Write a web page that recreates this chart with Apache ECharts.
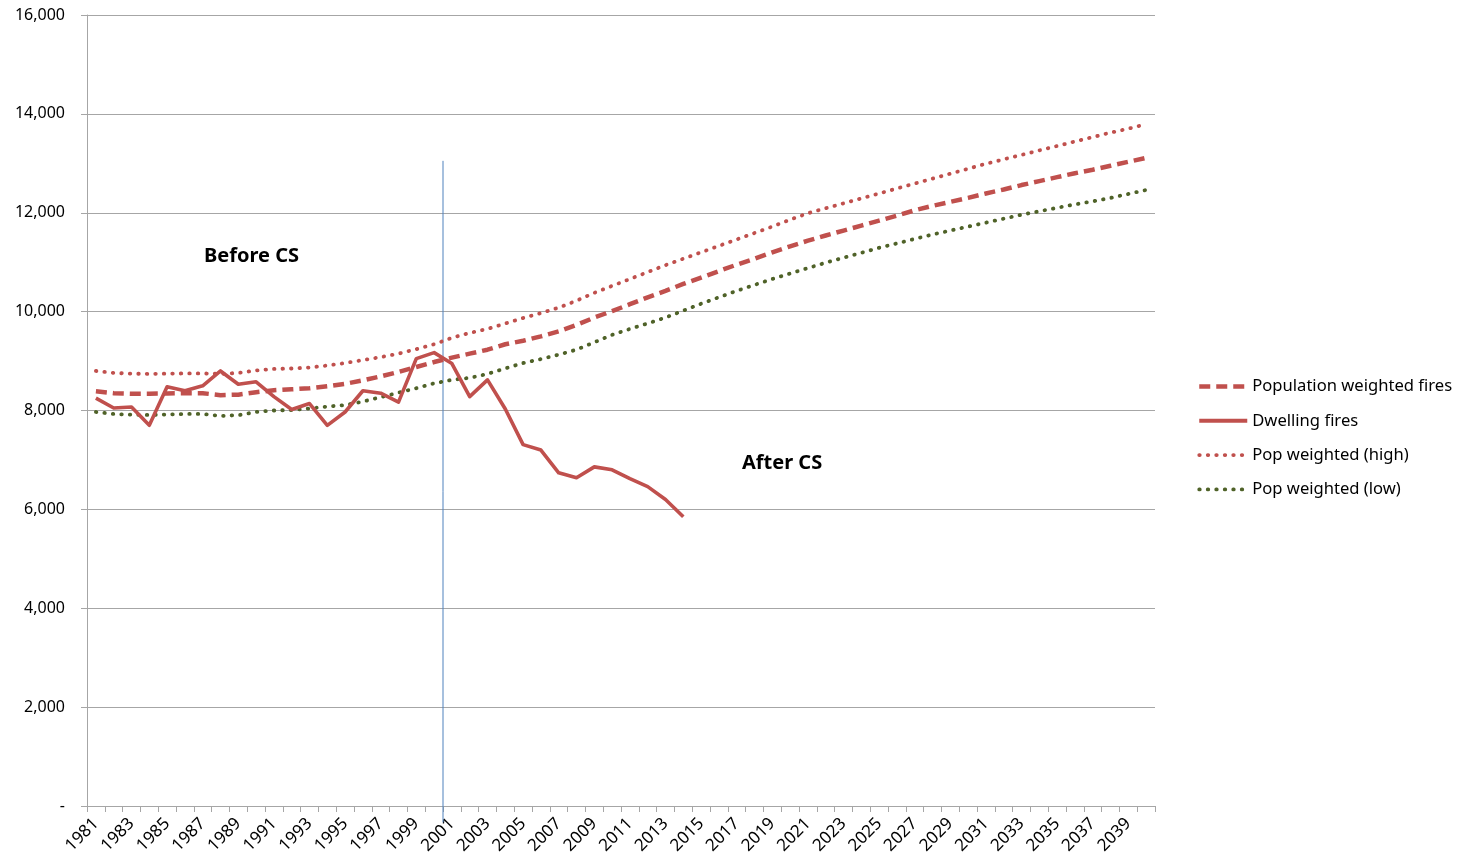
<!DOCTYPE html>
<html>
<head>
<meta charset="utf-8">
<script src="https://cdn.jsdelivr.net/npm/echarts@6/dist/echarts.min.js"></script>
<style>
html,body{margin:0;padding:0;background:#fff;}
#chart{width:1459px;height:859px;}
</style>
</head>
<body>
<div id="chart"></div>
<script>
var years = [];
for (var y = 1981; y <= 2040; y++) years.push(String(y));

var popWeighted = [8390,8350,8340,8340,8345,8350,8350,8310,8320,8370,8410,8430,8450,8490,8540,8610,8690,8780,8880,8980,
  9070,9150,9230,9340,9410,9500,9600,9730,9880,10010,10150,10290,10420,10560,10690,10820,10950,11070,11200,11320,
  11435,11540,11640,11740,11840,11940,12050,12140,12220,12300,12390,12470,12560,12640,12720,12800,12870,12950,13030,13110];

var dwellingFires = [8250,8050,8070,7700,8480,8400,8500,8800,8530,8580,8280,8020,8140,7700,7970,8400,8350,8170,9050,9170,
  8950,8280,8620,8030,7310,7200,6740,6640,6860,6800,6620,6460,6200,5850];

var popHigh = [8800,8760,8745,8740,8745,8750,8750,8740,8760,8810,8840,8850,8870,8910,8960,9020,9080,9150,9240,9340,
  9470,9570,9650,9760,9870,9970,10080,10220,10380,10520,10660,10800,10940,11070,11200,11330,11460,11590,11720,11860,
  11990,12090,12190,12290,12390,12490,12590,12690,12790,12890,12990,13080,13170,13260,13350,13440,13530,13620,13700,13790];

var popLow = [7970,7930,7915,7910,7920,7930,7930,7890,7905,7970,8000,8010,8040,8080,8110,8180,8270,8360,8450,8550,
  8620,8660,8740,8850,8960,9040,9130,9230,9380,9530,9650,9760,9880,10020,10160,10290,10420,10540,10660,10770,
  10880,10990,11090,11190,11290,11380,11470,11560,11640,11720,11800,11880,11960,12030,12100,12170,12230,12300,12380,12460];

var yTicks = [0,2000,4000,6000,8000,10000,12000,14000,16000];
var csBoundary = [[20, 13050], [20, -330]];

var RED = '#c0504d', GREEN = '#4f6228', BLUE = '#4f81bd', GRID = '#a6a6a6';
var FONT = 'Noto Sans';

var styles = {
  dashed: {color: RED, width: 4.5, type: [11, 6]},
  solid: {color: RED, width: 3.6, join: 'round'},
  high: {color: RED, width: 3.8, type: [0.5, 8], cap: 'round'},
  low: {color: GREEN, width: 3.8, type: [0.5, 8], cap: 'round'}
};

var chart = echarts.init(document.getElementById('chart'));
chart.setOption({
  animation: false,
  textStyle: {fontFamily: FONT},
  grid: {left: 87, right: 304, top: 15, bottom: 53, containLabel: false},
  legend: {
    orient: 'vertical', left: 1192, top: 373,
    itemWidth: 48, itemHeight: 14, itemGap: 17.3,
    itemStyle: {opacity: 0},
    textStyle: {fontFamily: FONT, fontSize: 16.6, color: '#000'},
    data: [
      {name: 'Population weighted fires', lineStyle: styles.dashed},
      {name: 'Dwelling fires', lineStyle: {color: RED, width: 4}},
      {name: 'Pop weighted (high)', lineStyle: styles.high},
      {name: 'Pop weighted (low)', lineStyle: styles.low}
    ]
  },
  xAxis: [{
    type: 'category', data: years, boundaryGap: true,
    axisLine: {lineStyle: {color: GRID, width: 1}},
    axisTick: {show: true, interval: 0, length: 6, lineStyle: {color: GRID}},
    axisLabel: {interval: 1, rotate: 45, fontSize: 17, color: '#000', fontFamily: FONT, margin: 15},
    splitLine: {show: false}
  }, {
    type: 'value', min: 0, max: 60, show: false
  }],
  yAxis: {
    type: 'value', min: yTicks[0], max: yTicks[yTicks.length - 1], interval: 2000,
    axisLine: {show: true, lineStyle: {color: GRID}},
    axisTick: {show: true, length: 6, lineStyle: {color: GRID}},
    axisLabel: {fontSize: 16, color: '#000', fontFamily: FONT, margin: 22,
      formatter: function (v) { return v === 0 ? '-' : v.toLocaleString('en-US'); }},
    splitLine: {lineStyle: {color: GRID, width: 1}}
  },
  graphic: [
    {type: 'text', left: 204, top: 246, style: {text: 'Before CS', font: 'bold 20px "Noto Sans"', fill: '#000'}},
    {type: 'text', left: 742, top: 453, style: {text: 'After CS', font: 'bold 20px "Noto Sans"', fill: '#000'}}
  ],
  series: [
    {name: 'CS boundary', type: 'line', xAxisIndex: 1, data: csBoundary, symbol: 'none', clip: false,
      lineStyle: {color: BLUE, width: 1}, z: 1, silent: true},
    {name: 'Population weighted fires', type: 'line', data: popWeighted, symbol: 'none',
      itemStyle: {color: RED}, lineStyle: styles.dashed, z: 3},
    {name: 'Dwelling fires', type: 'line', data: dwellingFires, symbol: 'none',
      itemStyle: {color: RED}, lineStyle: styles.solid, z: 4},
    {name: 'Pop weighted (high)', type: 'line', data: popHigh, symbol: 'none',
      itemStyle: {color: RED}, lineStyle: styles.high, z: 2},
    {name: 'Pop weighted (low)', type: 'line', data: popLow, symbol: 'none',
      itemStyle: {color: GREEN}, lineStyle: styles.low, z: 2}
  ]
});
</script>
</body>
</html>
